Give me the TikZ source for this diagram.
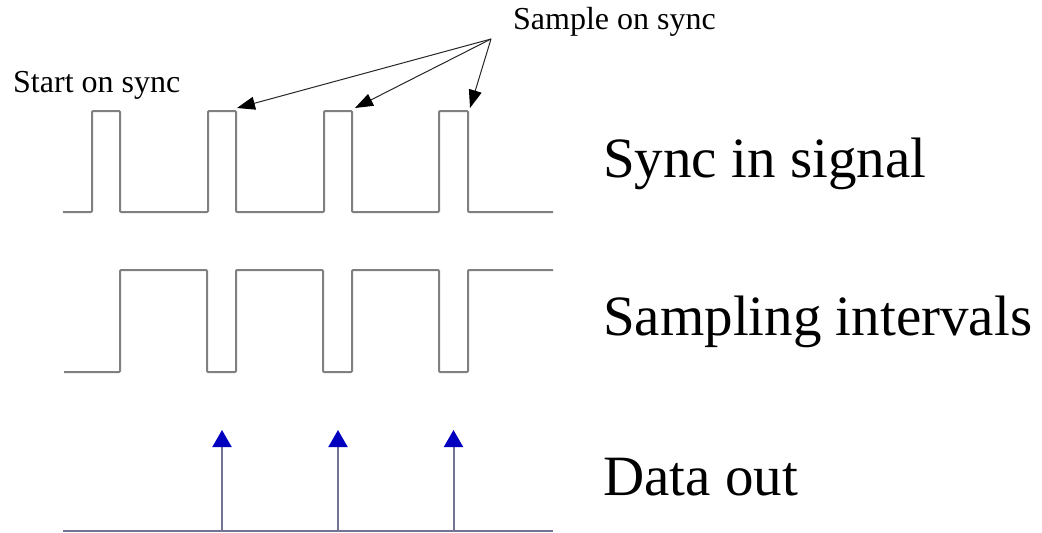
\documentclass[tikz,border=0pt]{standalone}
\usepackage{fontspec}
\setmainfont{Liberation Serif}
\usetikzlibrary{arrows.meta}
\definecolor{sigcol}{RGB}{128,128,128}
\definecolor{stemcol}{RGB}{115,115,150}
\definecolor{headcol}{RGB}{0,0,190}
\begin{document}
\begin{tikzpicture}[x=1pt,y=-1pt,
  sig/.style={draw=sigcol, line width=2pt, rounded corners=1pt},
  small/.style={inner sep=0pt, anchor=base west, font=\fontsize{32}{38}\selectfont},
  big/.style={inner sep=0pt, anchor=base west, font=\fontsize{57}{68}\selectfont},
  callout/.style={draw=black!85, line width=1pt, -{Triangle[length=18pt,width=13pt,color=black]}},
  stem/.style={draw=stemcol, line width=2pt, -{Triangle[length=17pt,width=19pt,color=headcol]}}]
\useasboundingbox (0,0) rectangle (1042,533);

% labels
\node[small] (start) at (13,92) {Start on sync};
\node[small] (sample) at (513,29) {Sample on sync};
\node[big] (sync) at (603,177) {Sync in signal};
\node[big] (samp) at (603,335) {Sampling intervals};
\node[big] (data) at (603,495) {Data out};

% sync in signal
\path[sig] (63,212) -| (92,111) -| (120,212) -| (208,111) -| (236,212)
  -| (324,111) -| (352,212) -| (439,111) -| (468,212) -- (553,212);

% sampling intervals
\path[sig] (64,372) -| (120,270) -| (207,372) -| (236,270) -| (323,372)
  -| (352,270) -| (439,372) -| (468,270) -- (553,270);

% callout arrows
\coordinate (src) at (491,39);
\coordinate (t1) at (237,108);
\coordinate (t2) at (355,108);
\coordinate (t3) at (470,108);
\draw[callout] (src) -- (t1);
\draw[callout] (src) -- (t2);
\draw[callout] (src) -- (t3);

% data out
\coordinate (d0) at (63,531);
\coordinate (d9) at (553,531);
\draw[draw=stemcol, line width=2pt] (d0) -- (d9);
\coordinate (b1) at (222,531); \coordinate (a1) at (222,430);
\coordinate (b2) at (338,531); \coordinate (a2) at (338,430);
\coordinate (b3) at (453.5,531); \coordinate (a3) at (453.5,430);
\draw[stem] (b1) -- (a1);
\draw[stem] (b2) -- (a2);
\draw[stem] (b3) -- (a3);
\end{tikzpicture}
\end{document}
